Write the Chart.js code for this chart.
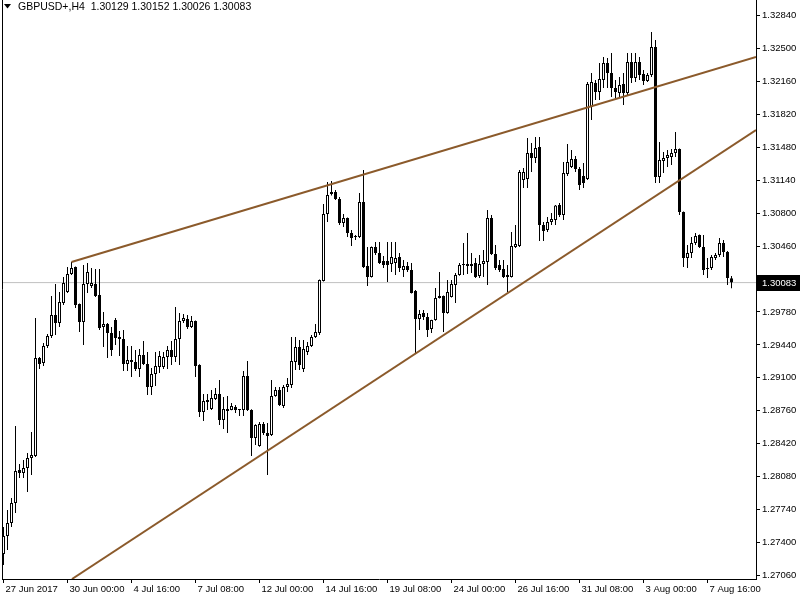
<!DOCTYPE html>
<html>
<head>
<meta charset="utf-8">
<script src="https://cdn.jsdelivr.net/npm/chart.js@4.4.0/dist/chart.umd.min.js"></script>
<style>
    html, body { margin: 0; padding: 0; background: #ffffff; }
    #wrap { width: 800px; height: 600px; }
</style>
</head>
<body>
<div id="wrap"><canvas id="mtChart" width="800" height="600"></canvas></div>
<script>
// GBPUSD+ H4, 27 Jun - 8 Aug 2017, one entry per candle
const symbol = "GBPUSD+,H4";

const opens = [
    1.27282, 1.27468, 1.27602, 1.27809, 1.28149, 1.28118, 1.28169, 1.28273, 1.28294, 1.29305,
    1.29253, 1.29429, 1.29532, 1.29748, 1.29666, 1.29873, 1.29986, 1.30172, 1.30244, 1.29862,
    1.29676, 1.30069, 1.30048, 1.30069, 1.29955, 1.29625, 1.29656, 1.29563, 1.29697, 1.29522,
    1.29501, 1.29243, 1.29284, 1.29264, 1.29191, 1.29336, 1.29243, 1.29006, 1.29140, 1.29212,
    1.29212, 1.29315, 1.29388, 1.29315, 1.29501, 1.29687, 1.29708, 1.29625, 1.29687, 1.29233,
    1.28748, 1.28851, 1.28779, 1.28882, 1.28934, 1.28665, 1.28779, 1.28768, 1.28799, 1.28768,
    1.28768, 1.29119, 1.28768, 1.28479, 1.28397, 1.28624, 1.28531, 1.28510, 1.28913, 1.28975,
    1.28810, 1.29006, 1.29026, 1.29264, 1.29419, 1.29191, 1.29367, 1.29429, 1.29522, 1.29563,
    1.30100, 1.30791, 1.30998, 1.31018, 1.30946, 1.30698, 1.30750, 1.30595, 1.30554, 1.30554,
    1.30915, 1.30255, 1.30141, 1.30451, 1.30389, 1.30306, 1.30306, 1.30275, 1.30286, 1.30348,
    1.30213, 1.30255, 1.30213, 1.29997, 1.29708, 1.29769, 1.29728, 1.29604, 1.29697, 1.29924,
    1.29945, 1.29769, 1.29935, 1.30059, 1.30162, 1.30265, 1.30255, 1.30255, 1.30286, 1.30151,
    1.30275, 1.30296, 1.30750, 1.30378, 1.30265, 1.30224, 1.30141, 1.30141, 1.30451, 1.30461,
    1.31142, 1.31153, 1.31421, 1.31369, 1.31483, 1.30678, 1.30626, 1.30709, 1.30729, 1.30884,
    1.30781, 1.31204, 1.31276, 1.31359, 1.31256, 1.31183, 1.31153, 1.31896, 1.32143, 1.32050,
    1.32174, 1.32350, 1.32247, 1.32092, 1.32040, 1.32133, 1.32040, 1.32360, 1.32195, 1.32360,
    1.32236, 1.32164, 1.32226, 1.32515, 1.31173, 1.31338, 1.31369, 1.31380, 1.31421, 1.31462,
    1.30812, 1.30337, 1.30389, 1.30492, 1.30575, 1.30451, 1.30224, 1.30234, 1.30337, 1.30368,
    1.30492, 1.30399, 1.30129
];

const highs = [
    1.27561, 1.27736, 1.27860, 1.28603, 1.28211, 1.28252, 1.28325, 1.28541, 1.29717, 1.29315,
    1.29460, 1.29553, 1.29945, 1.30069, 1.29986, 1.30141, 1.30244, 1.30296, 1.30250, 1.29868,
    1.30265, 1.30286, 1.30234, 1.30224, 1.30224, 1.29779, 1.29666, 1.29625, 1.29718, 1.29584,
    1.29594, 1.29429, 1.29429, 1.29388, 1.29398, 1.29481, 1.29367, 1.29202, 1.29367, 1.29377,
    1.29367, 1.29429, 1.29481, 1.29831, 1.29769, 1.29759, 1.29749, 1.29739, 1.29693, 1.29240,
    1.28934, 1.28934, 1.28975, 1.28995, 1.29078, 1.28903, 1.28913, 1.28841, 1.28820, 1.28779,
    1.29171, 1.29274, 1.28775, 1.28620, 1.28645, 1.28645, 1.28634, 1.29078, 1.29006, 1.29006,
    1.29026, 1.29099, 1.29522, 1.29522, 1.29491, 1.29491, 1.29470, 1.29542, 1.29656, 1.30115,
    1.30895, 1.31122, 1.31132, 1.31039, 1.30967, 1.30791, 1.30755, 1.30626, 1.30575, 1.31008,
    1.31245, 1.30451, 1.30456, 1.30502, 1.30502, 1.30358, 1.30502, 1.30502, 1.30502, 1.30389,
    1.30317, 1.30296, 1.30286, 1.30007, 1.29800, 1.29800, 1.29769, 1.29700, 1.30028, 1.30192,
    1.29950, 1.30110, 1.30110, 1.30182, 1.30286, 1.30492, 1.30595, 1.30389, 1.30337, 1.30368,
    1.30420, 1.30833, 1.30781, 1.30471, 1.30317, 1.30317, 1.30265, 1.30606, 1.30678, 1.31245,
    1.31266, 1.31576, 1.31524, 1.31586, 1.31586, 1.30709, 1.30760, 1.30802, 1.30884, 1.30905,
    1.31328, 1.31514, 1.31452, 1.31390, 1.31276, 1.31318, 1.32153, 1.32247, 1.32174, 1.32350,
    1.32412, 1.32401, 1.32453, 1.32174, 1.32205, 1.32247, 1.32453, 1.32453, 1.32453, 1.32412,
    1.32278, 1.32247, 1.32670, 1.32587, 1.31534, 1.31431, 1.31452, 1.31462, 1.31638, 1.31468,
    1.30818, 1.30471, 1.30554, 1.30595, 1.30580, 1.30575, 1.30337, 1.30368, 1.30389, 1.30544,
    1.30523, 1.30410, 1.30152
];

const lows = [
    1.27168, 1.27323, 1.27561, 1.27705, 1.28066, 1.28066, 1.27922, 1.28097, 1.28284, 1.29191,
    1.29222, 1.29408, 1.29511, 1.29542, 1.29625, 1.29852, 1.29976, 1.30162, 1.29821, 1.29573,
    1.29439, 1.29976, 1.30028, 1.29935, 1.29594, 1.29419, 1.29305, 1.29326, 1.29439, 1.29326,
    1.29171, 1.29171, 1.29109, 1.29171, 1.29109, 1.29233, 1.28923, 1.28923, 1.29016, 1.29150,
    1.29191, 1.29191, 1.29233, 1.29264, 1.29233, 1.29666, 1.29604, 1.29615, 1.29109, 1.28696,
    1.28655, 1.28768, 1.28768, 1.28872, 1.28614, 1.28572, 1.28531, 1.28765, 1.28737, 1.28706,
    1.28706, 1.28758, 1.28294, 1.28407, 1.28390, 1.28510, 1.28097, 1.28500, 1.28905, 1.28810,
    1.28789, 1.28954, 1.28995, 1.29181, 1.29181, 1.29161, 1.29336, 1.29419, 1.29511, 1.29542,
    1.30095, 1.30709, 1.30982, 1.30936, 1.30678, 1.30657, 1.30554, 1.30461, 1.30523, 1.30544,
    1.30234, 1.30048, 1.30135, 1.30368, 1.30276, 1.30234, 1.30090, 1.30192, 1.30162, 1.30192,
    1.30141, 1.30192, 1.29970, 1.29357, 1.29594, 1.29697, 1.29522, 1.29563, 1.29690, 1.29918,
    1.29573, 1.29762, 1.29929, 1.29873, 1.30155, 1.30162, 1.30172, 1.30182, 1.30131, 1.30131,
    1.30141, 1.30059, 1.30368, 1.30213, 1.30192, 1.30131, 1.29986, 1.30135, 1.30440, 1.30451,
    1.31060, 1.31060, 1.31225, 1.31318, 1.30513, 1.30513, 1.30606, 1.30678, 1.30678, 1.30760,
    1.30729, 1.31183, 1.31266, 1.31225, 1.31039, 1.31060, 1.31142, 1.31761, 1.31968, 1.31968,
    1.32092, 1.32092, 1.31999, 1.31968, 1.31989, 1.31916, 1.32019, 1.32143, 1.32154, 1.32174,
    1.32123, 1.32154, 1.32205, 1.31111, 1.31111, 1.31214, 1.31276, 1.31297, 1.31380, 1.30781,
    1.30244, 1.30234, 1.30337, 1.30471, 1.30440, 1.30162, 1.30131, 1.30213, 1.30317, 1.30348,
    1.30348, 1.30059, 1.30026
];

const closes = [
    1.27468, 1.27602, 1.27809, 1.28139, 1.28118, 1.28169, 1.28273, 1.28304, 1.29305, 1.29243,
    1.29429, 1.29532, 1.29748, 1.29666, 1.29883, 1.30079, 1.30172, 1.30234, 1.29852, 1.29676,
    1.30069, 1.30192, 1.30079, 1.29945, 1.29614, 1.29656, 1.29563, 1.29388, 1.29511, 1.29501,
    1.29243, 1.29284, 1.29264, 1.29191, 1.29336, 1.29243, 1.29006, 1.29140, 1.29222, 1.29326,
    1.29315, 1.29388, 1.29315, 1.29501, 1.29687, 1.29718, 1.29625, 1.29687, 1.29222, 1.28748,
    1.28861, 1.28872, 1.28892, 1.28934, 1.28665, 1.28779, 1.28758, 1.28810, 1.28768, 1.28770,
    1.29119, 1.28768, 1.28479, 1.28614, 1.28624, 1.28531, 1.28500, 1.28913, 1.28975, 1.28820,
    1.29006, 1.29037, 1.29274, 1.29419, 1.29233, 1.29398, 1.29429, 1.29522, 1.29573, 1.30110,
    1.30791, 1.30987, 1.31018, 1.30946, 1.30698, 1.30750, 1.30595, 1.30544, 1.30556, 1.30915,
    1.30244, 1.30141, 1.30451, 1.30389, 1.30286, 1.30265, 1.30265, 1.30348, 1.30337, 1.30234,
    1.30255, 1.30213, 1.29976, 1.29708, 1.29759, 1.29728, 1.29594, 1.29697, 1.29924, 1.29945,
    1.29769, 1.29986, 1.30069, 1.30162, 1.30265, 1.30267, 1.30275, 1.30275, 1.30141, 1.30275,
    1.30306, 1.30750, 1.30378, 1.30234, 1.30213, 1.30141, 1.30162, 1.30461, 1.30482, 1.31225,
    1.31225, 1.31421, 1.31369, 1.31472, 1.30678, 1.30616, 1.30709, 1.30740, 1.30880, 1.30781,
    1.31214, 1.31328, 1.31359, 1.31256, 1.31091, 1.31111, 1.32133, 1.32154, 1.32050, 1.32185,
    1.32350, 1.32247, 1.32092, 1.32050, 1.32123, 1.32040, 1.32360, 1.32195, 1.32360, 1.32226,
    1.32164, 1.32226, 1.32515, 1.31173, 1.31349, 1.31369, 1.31400, 1.31421, 1.31462, 1.30812,
    1.30337, 1.30389, 1.30492, 1.30564, 1.30451, 1.30213, 1.30234, 1.30348, 1.30368, 1.30492,
    1.30399, 1.30131, 1.30083
];

// time labels along the bottom, one every 16 candles
const dateTicks = [
    "27 Jun 2017", "30 Jun 00:00", "4 Jul 16:00", "7 Jul 08:00", "12 Jul 00:00", "14 Jul 16:00",
    "19 Jul 08:00", "24 Jul 00:00", "26 Jul 16:00", "31 Jul 08:00", "3 Aug 00:00", "7 Aug 16:00"
];
const dateTickStep = 16;

// price labels on the right (1.30120 is hidden under the bid label)
const priceTicks = [
    1.27060, 1.27400, 1.27740, 1.28080, 1.28420, 1.28760, 1.29100, 1.29440, 1.29780,
    1.30460, 1.30800, 1.31140, 1.31480, 1.31820, 1.32160, 1.32500, 1.32840
];

// trend lines: [candle index, price] at both ends
const upperTrend = [[17, 1.30296], [188.125, 1.32412]];
const lowerTrend = [[17.125, 1.27024], [188.125, 1.31658]];

const xMin = -0.375;
const xMax = 188.125;
const yMin = 1.27024;
const yMax = 1.33000;

const axisFont = { family: "'Liberation Sans', Arial, sans-serif", size: 9.5 };
const axisFontCss = "9.5px 'Liberation Sans', Arial, sans-serif";
const headerFontCss = "10.5px 'Liberation Sans', Arial, sans-serif";
const trendColor = "#8b5a2b";

const lastIdx = closes.length - 1;
const lastPrice = closes[lastIdx];

const bodies = opens.map((o, i) => ({ x: i, y: [o, closes[i]] }));
const wicks = opens.map((o, i) => ({ x: i, y: [lows[i], highs[i]] }));
const bodyFill = opens.map((o, i) => closes[i] >= o ? "#ffffff" : "#000000");

const mtOverlay = {
    id: "mtOverlay",
    afterDraw(chart) {
        const ctx = chart.ctx;
        const area = chart.chartArea;
        const yScale = chart.scales.y;

        ctx.save();

        // left frame line
        ctx.strokeStyle = "#000000";
        ctx.lineWidth = 1;
        ctx.beginPath();
        ctx.moveTo(area.left + 0.5, area.top);
        ctx.lineTo(area.left + 0.5, area.bottom);
        ctx.stroke();

        // bid label on the price axis
        const py = Math.round(yScale.getPixelForValue(lastPrice));
        ctx.fillStyle = "#000000";
        ctx.fillRect(area.right + 1, py - 8, chart.width - area.right - 1, 16);
        ctx.fillStyle = "#ffffff";
        ctx.font = axisFontCss;
        ctx.textAlign = "left";
        ctx.textBaseline = "middle";
        ctx.fillText(lastPrice.toFixed(5), area.right + 6, py + 0.5);

        // header: symbol and last candle OHLC
        ctx.fillStyle = "#000000";
        ctx.beginPath();
        ctx.moveTo(4, 4);
        ctx.lineTo(11, 4);
        ctx.lineTo(7.5, 8.5);
        ctx.closePath();
        ctx.fill();

        const ohlc = [opens[lastIdx], highs[lastIdx], lows[lastIdx], closes[lastIdx]]
            .map(v => v.toFixed(5)).join(" ");
        ctx.font = headerFontCss;
        ctx.textBaseline = "alphabetic";
        ctx.fillText(symbol + "  " + ohlc, 18, 10);

        ctx.restore();
    }
};

new Chart(document.getElementById("mtChart"), {
    type: "bar",
    data: {
        datasets: [
            {
                type: "line",
                data: upperTrend.map(p => ({ x: p[0], y: p[1] })),
                borderColor: trendColor,
                borderWidth: 2,
                pointRadius: 0,
                order: 0
            },
            {
                type: "line",
                data: lowerTrend.map(p => ({ x: p[0], y: p[1] })),
                borderColor: trendColor,
                borderWidth: 2,
                pointRadius: 0,
                order: 0
            },
            {
                type: "bar",
                data: bodies,
                backgroundColor: bodyFill,
                borderColor: "#000000",
                borderWidth: 1,
                borderSkipped: false,
                barThickness: 3,
                minBarLength: 1,
                inflateAmount: 0,
                grouped: false,
                order: 1
            },
            {
                type: "bar",
                data: wicks,
                backgroundColor: "#000000",
                borderWidth: 0,
                barThickness: 1,
                inflateAmount: 0,
                grouped: false,
                order: 2
            },
            {
                type: "line",
                data: [{ x: xMin, y: lastPrice }, { x: xMax, y: lastPrice }],
                borderColor: "#c0c0c0",
                borderWidth: 1,
                pointRadius: 0,
                order: 3
            }
        ]
    },
    options: {
        responsive: false,
        animation: false,
        events: [],
        layout: { padding: { left: 2, right: 0, top: 0, bottom: 0 } },
        plugins: {
            legend: { display: false },
            tooltip: { enabled: false }
        },
        scales: {
            x: {
                type: "linear",
                min: xMin,
                max: xMax,
                offset: false,
                grid: { drawOnChartArea: false, drawTicks: true, tickLength: 4, color: "#000000", offset: false },
                border: { display: true, color: "#000000" },
                ticks: {
                    autoSkip: false,
                    maxRotation: 0,
                    align: "start",
                    labelOffset: 2,
                    padding: 1,
                    color: "#000000",
                    font: axisFont,
                    callback: value => dateTicks[Math.round(value / dateTickStep)]
                },
                afterBuildTicks: scale => {
                    scale.ticks = dateTicks.map((label, k) => ({ value: k * dateTickStep }));
                },
                afterFit: scale => {
                    scale.height = 21;
                    scale.paddingLeft = 0;
                    scale.paddingRight = 0;
                }
            },
            y: {
                type: "linear",
                position: "right",
                min: yMin,
                max: yMax,
                grid: { drawOnChartArea: false, drawTicks: true, tickLength: 4, color: "#000000" },
                border: { display: true, color: "#000000" },
                ticks: {
                    padding: 2,
                    color: "#000000",
                    font: axisFont,
                    callback: value => value.toFixed(5)
                },
                afterBuildTicks: scale => {
                    scale.ticks = priceTicks.map(v => ({ value: v }));
                },
                afterFit: scale => {
                    scale.width = 44;
                    scale.paddingTop = 0;
                    scale.paddingBottom = 0;
                }
            }
        }
    },
    plugins: [mtOverlay]
});
</script>
</body>
</html>
